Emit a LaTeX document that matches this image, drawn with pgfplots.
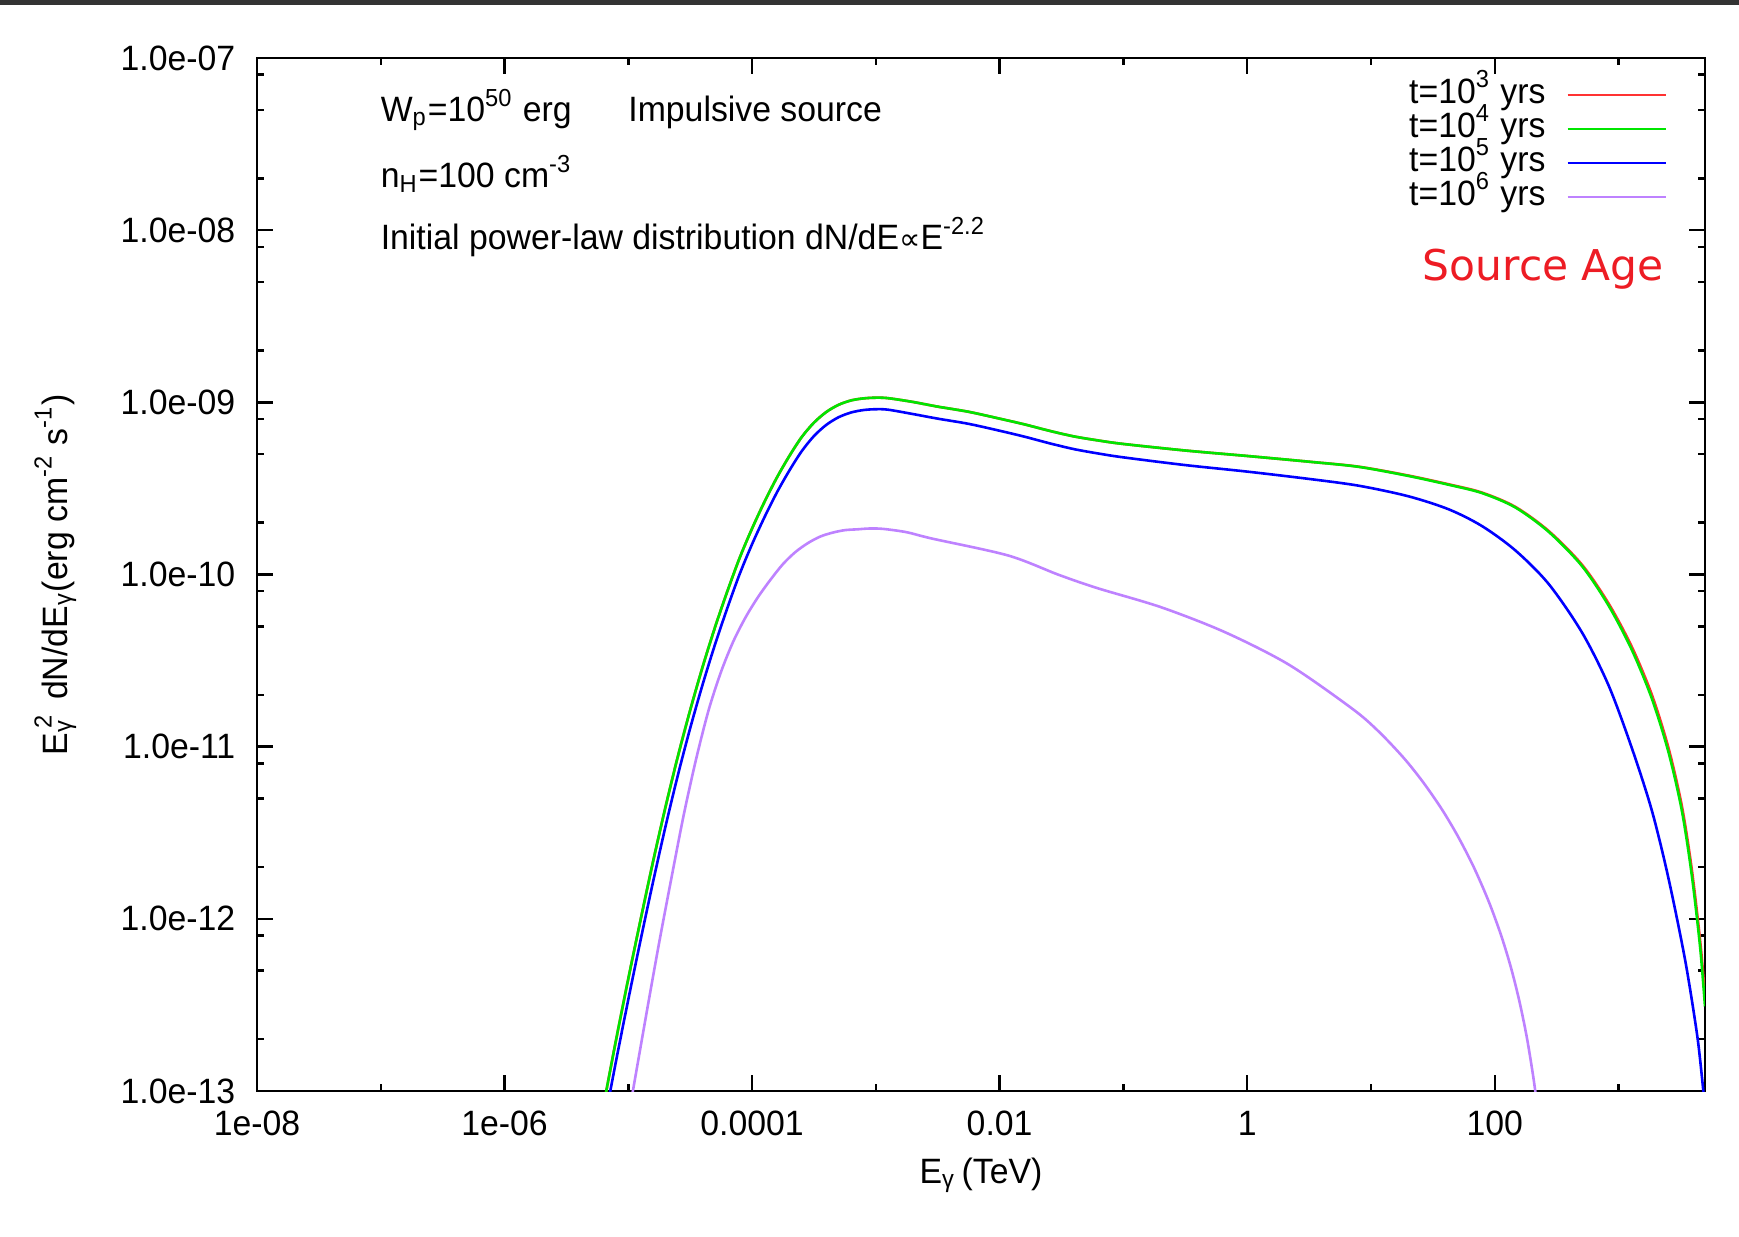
\documentclass[border=0pt]{standalone}
\usepackage{pgfplots}
\pgfplotsset{compat=1.18}
\usepackage{fontspec}
\setmainfont{Liberation Sans}[FakeStretch=0.96]
\newfontfamily\dejavu{DejaVu Sans}
\definecolor{cred}{RGB}{255,50,50}
\definecolor{cgreen}{RGB}{0,230,0}
\definecolor{cblue}{RGB}{0,0,255}
\definecolor{cpurple}{RGB}{190,130,255}
\definecolor{agered}{RGB}{237,28,36}
\definecolor{topbar}{RGB}{51,51,51}
\newcommand\fs{\fontsize{8.8}{10.5}\selectfont}

\begin{document}
\begin{tikzpicture}[font=\fs]
\begin{axis}[
  at={(0,0)}, anchor=south west,
  scale only axis, width=362pt, height=258.25pt,
  xmode=log, ymode=log,
  xmin=1e-8, xmax=5000, ymin=1e-13, ymax=1e-7,
  xtick={1e-8,1e-6,1e-4,1e-2,1,100},
  xticklabels={1e-08,1e-06,0.0001,0.01,1,100},
  minor xtick={1e-7,1e-5,1e-3,1e-1,10,1000},
  ytick={1e-13,1e-12,1e-11,1e-10,1e-9,1e-8,1e-7},
  yticklabels={1.0e-13,1.0e-12,1.0e-11,1.0e-10,1.0e-09,1.0e-08,1.0e-07},
  minor ytick={2e-13,5e-13,8e-13,2e-12,5e-12,8e-12,2e-11,5e-11,8e-11,2e-10,5e-10,8e-10,2e-9,5e-9,8e-9,2e-8,5e-8,8e-8},
  tick align=inside,
  major tick length=4pt, minor tick length=1.75pt,
  every tick/.style={black, line width=0.6pt},
  axis line style={line width=0.7pt},
  xticklabel style={inner sep=0pt, yshift=-4.75pt, font=\fs},
  yticklabel style={inner sep=0pt, xshift=-5.25pt, font=\fs},
  xlabel={E\textsubscript{γ}\,(TeV)},
  ylabel={E\rlap{\textsuperscript{\,2}}\textsubscript{γ}\ \ dN/dE\textsubscript{γ}(erg cm\textsuperscript{-2} s\textsuperscript{-1})},
  xlabel style={at={(axis description cs:0.5,-0.0900)}, anchor=base, inner sep=0pt, font=\fs},
  ylabel style={at={(axis description cs:-0.1312,0.5)}, anchor=base, inner sep=0pt, font=\fs},
  legend plot pos=right,
  legend cell align=right,
  legend image code/.code={\draw[#1] (0pt,0pt) -- (24.5pt,0pt);},
  legend style={draw=none, fill=none, at={(axis description cs:0.9738,0.9808)}, anchor=north east,
    inner sep=0pt, outer sep=0pt, row sep=0pt, column sep=5.25pt,
    nodes={inner sep=0pt, text height=6.3pt, text depth=2.2pt, font=\fs}},
]
\addplot[color=cred, line width=0.65pt, smooth, no markers] coordinates {
(6.310e-6,8.26e-14) (7.943e-6,1.96e-13) (1.0e-5,4.49e-13) (1.259e-5,9.93e-13) (1.585e-5,2.15e-12)
(1.995e-5,4.44e-12) (2.512e-5,8.75e-12) (3.162e-5,1.63e-11) (3.981e-5,2.90e-11) (5.012e-5,4.92e-11)
(6.310e-5,7.98e-11) (7.943e-5,1.25e-10) (1.0e-4,1.85e-10) (1.259e-4,2.64e-10) (1.585e-4,3.65e-10)
(1.995e-4,4.86e-10) (2.512e-4,6.27e-10) (3.162e-4,7.62e-10) (3.981e-4,8.79e-10) (5.012e-4,9.68e-10)
(6.310e-4,1.026e-9) (7.943e-4,1.054e-9) (1.0e-3,1.064e-9) (1.259e-3,1.057e-9) (1.995e-3,1.005e-9)
(3.162e-3,9.44e-10) (5.623e-3,8.81e-10) (1.0e-2,8.04e-10) (1.585e-2,7.45e-10) (2.512e-2,6.84e-10)
(3.981e-2,6.34e-10) (6.310e-2,6.00e-10) (0.1,5.73e-10) (0.3162,5.25e-10) (1,4.88e-10)
(3.162,4.52e-10) (7.943,4.23e-10) (19.95,3.76e-10) (42.56,3.34e-10) (79.07,2.99e-10)
(146.9,2.47e-10) (272.9,1.79e-10) (507.0,1.14e-10) (831.8,6.79e-11) (1282,3.80e-11)
(1862,2.00e-11) (2535,9.84e-12) (3251,4.53e-12) (3908,1.95e-12) (4571,7.45e-13) (5000,3.55e-13)
};
\addlegendentry{t=10\textsuperscript{3} yrs}
\addplot[color=cgreen, line width=0.65pt, smooth, no markers] coordinates {
(6.310e-6,8.26e-14) (7.943e-6,1.96e-13) (1.0e-5,4.49e-13) (1.259e-5,9.93e-13) (1.585e-5,2.15e-12)
(1.995e-5,4.44e-12) (2.512e-5,8.75e-12) (3.162e-5,1.63e-11) (3.981e-5,2.90e-11) (5.012e-5,4.92e-11)
(6.310e-5,7.98e-11) (7.943e-5,1.25e-10) (1.0e-4,1.85e-10) (1.259e-4,2.64e-10) (1.585e-4,3.65e-10)
(1.995e-4,4.86e-10) (2.512e-4,6.27e-10) (3.162e-4,7.62e-10) (3.981e-4,8.79e-10) (5.012e-4,9.68e-10)
(6.310e-4,1.026e-9) (7.943e-4,1.054e-9) (1.0e-3,1.064e-9) (1.259e-3,1.057e-9) (1.995e-3,1.005e-9)
(3.162e-3,9.44e-10) (5.623e-3,8.81e-10) (1.0e-2,8.04e-10) (1.585e-2,7.45e-10) (2.512e-2,6.84e-10)
(3.981e-2,6.34e-10) (6.310e-2,6.00e-10) (0.1,5.73e-10) (0.3162,5.25e-10) (1,4.88e-10)
(3.162,4.52e-10) (7.943,4.22e-10) (19.95,3.74e-10) (42.56,3.32e-10) (79.07,2.97e-10)
(146.9,2.45e-10) (272.9,1.77e-10) (507.0,1.12e-10) (831.8,6.6e-11) (1282,3.65e-11)
(1862,1.9e-11) (2535,9.3e-12) (3251,4.25e-12) (3908,1.8e-12) (4571,6.8e-13) (5000,3.1e-13)
};
\addlegendentry{t=10\textsuperscript{4} yrs}
\addplot[color=cblue, line width=0.65pt, smooth, no markers] coordinates {
(6.310e-6,6.22e-14) (7.943e-6,1.48e-13) (1.0e-5,3.40e-13) (1.259e-5,7.57e-13) (1.585e-5,1.64e-12)
(1.995e-5,3.42e-12) (2.512e-5,6.81e-12) (3.162e-5,1.28e-11) (3.981e-5,2.29e-11) (5.012e-5,3.91e-11)
(6.310e-5,6.38e-11) (7.943e-5,1.007e-10) (1.0e-4,1.50e-10) (1.259e-4,2.15e-10) (1.585e-4,2.99e-10)
(1.995e-4,4.00e-10) (2.512e-4,5.19e-10) (3.162e-4,6.37e-10) (3.981e-4,7.40e-10) (5.012e-4,8.20e-10)
(6.310e-4,8.73e-10) (7.943e-4,9.02e-10) (1.0e-3,9.12e-10) (1.259e-3,9.06e-10) (1.995e-3,8.55e-10)
(3.162e-3,8.04e-10) (5.623e-3,7.50e-10) (1.0e-2,6.84e-10) (1.585e-2,6.32e-10) (2.512e-2,5.79e-10)
(3.981e-2,5.35e-10) (6.310e-2,5.04e-10) (0.1,4.79e-10) (0.3162,4.32e-10) (1,3.96e-10)
(3.162,3.59e-10) (7.943,3.28e-10) (19.95,2.85e-10) (42.56,2.39e-10) (79.07,1.91e-10)
(146.9,1.38e-10) (272.9,8.81e-11) (507.0,4.61e-11) (831.8,2.27e-11) (1282,9.82e-12)
(1862,4.25e-12) (2535,1.72e-12) (3459,5.74e-13) (4295,2.18e-13) (4710,1.23e-13) (5000,7.9e-14)
};
\addlegendentry{t=10\textsuperscript{5} yrs}
\addplot[color=cpurple, line width=0.65pt, smooth, no markers] coordinates {
(1.0e-5,7.05e-14) (1.089e-5,1e-13) (1.413e-5,2.91e-13) (1.778e-5,7.31e-13) (2.239e-5,1.75e-12)
(2.818e-5,4.08e-12) (3.548e-5,8.59e-12) (4.467e-5,1.64e-11) (5.623e-5,2.73e-11) (7.079e-5,4.11e-11)
(8.913e-5,5.68e-11) (1.122e-4,7.43e-11) (1.413e-4,9.35e-11) (1.778e-4,1.15e-10) (2.239e-4,1.35e-10)
(2.818e-4,1.52e-10) (3.548e-4,1.66e-10) (4.467e-4,1.75e-10) (5.623e-4,1.81e-10) (7.079e-4,1.83e-10)
(8.913e-4,1.85e-10) (1.148e-3,1.84e-10) (1.778e-3,1.76e-10) (2.81e-3,1.62e-10) (1.17e-2,1.29e-10)
(3.01e-2,9.95e-11) (6.14e-2,8.34e-11) (0.201,6.46e-11) (0.659,4.63e-11) (2.163,3.00e-11)
(7.079,1.66e-11) (11.48,1.23e-11) (18.28,8.65e-12) (26.3,6.24e-12) (37.24,4.35e-12)
(50.12,3.04e-12) (67.45,2.01e-12) (89.13,1.27e-12) (112.2,8.09e-13) (134.9,5.25e-13)
(158.5,3.31e-13) (182.0,2.04e-13) (204.2,1.23e-13) (218.8,8.59e-14)
};
\addlegendentry{t=10\textsuperscript{6} yrs}
\end{axis}
\node[anchor=base west, inner sep=0pt] at (30.75pt,242.25pt) {W\textsubscript{p}=10\textsuperscript{50} erg};
\node[anchor=base west, inner sep=0pt] at (92.65pt,242.25pt) {Impulsive source};
\node[anchor=base west, inner sep=0pt] at (30.75pt,225.75pt) {n\textsubscript{H}=100 cm\textsuperscript{-3}};
\node[anchor=base west, inner sep=0pt] at (30.75pt,210.25pt) {Initial power-law distribution dN/dE{\dejavu\fontsize{7.5}{9}\selectfont ∝}E\textsuperscript{-2.2}};
\node[anchor=base west, inner sep=0pt, text=agered, font=\dejavu\fontsize{10.6}{12}\selectfont] at (291.25pt,202.5pt) {Source Age};
\fill[topbar] (-64.25pt,271.5pt) rectangle (370.5pt,272.75pt);
\pgfresetboundingbox
\path[use as bounding box] (-64.25pt,-36.5pt) rectangle (370.5pt,272.75pt);
\end{tikzpicture}
\end{document}
